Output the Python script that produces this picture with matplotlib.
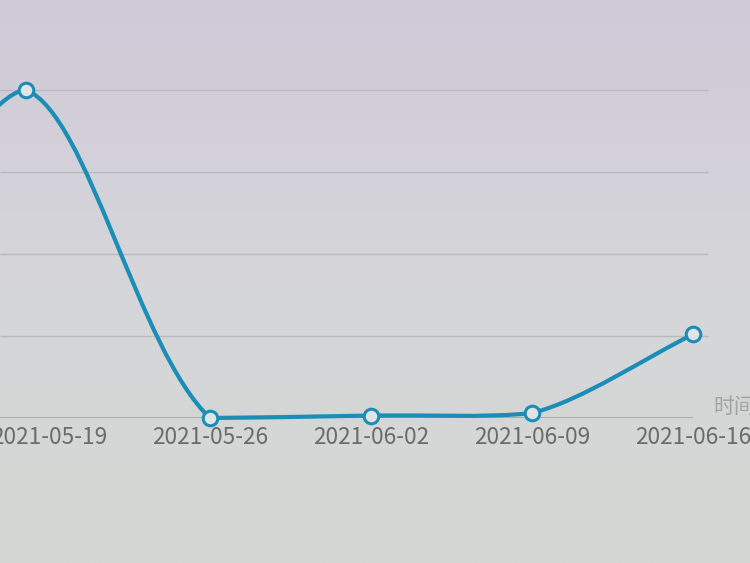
import numpy as np
import matplotlib
matplotlib.use("Agg")
import matplotlib.pyplot as plt
import matplotlib.dates as mdates
from matplotlib.path import Path
from matplotlib.patches import PathPatch
from matplotlib.colors import LinearSegmentedColormap

plt.rcParams['font.family'] = ['Noto Sans CJK SC', 'DejaVu Sans']

# data (y-axis labels are outside the shot, units are a guess)
dates = ['2021-05-11', '2021-05-18', '2021-05-26', '2021-06-02', '2021-06-09', '2021-06-16']
values = [1600, 4000, 0, 30, 60, 1020]
tick_dates = ['2021-05-19', '2021-05-26', '2021-06-02', '2021-06-09', '2021-06-16']
y_grid = [1000, 2000, 3000, 4000]

LINE = '#1b8db6'


def smooth_path(pts, smooth=0.3):
    """echarts(4) style bezier smoothing in pixel space, clamped to the points' bbox"""
    pmin = pts.min(axis=0)
    pmax = pts.max(axis=0)
    n = len(pts)
    verts = [tuple(pts[0])]
    codes = [Path.MOVETO]
    cp0 = pts[0].copy()
    for i in range(1, n):
        p = pts[i]
        prev = pts[i - 1]
        nxt = pts[i + 1] if i < n - 1 else p
        v = nxt - prev
        lp = np.hypot(*(p - prev))
        ln = np.hypot(*(p - nxt))
        r = ln / (ln + lp)
        cp1 = p - v * smooth * (1 - r)
        cp0 = np.clip(cp0, pmin, pmax)
        cp1 = np.clip(cp1, pmin, pmax)
        verts += [tuple(cp0), tuple(cp1), tuple(p)]
        codes += [Path.CURVE4] * 3
        cp0 = p + v * smooth * r
    return np.array(verts), codes


fig = plt.figure(figsize=(7.5, 5.63), dpi=100)

# photo-ish background: purple grey at the top, greener grey at the bottom
bg = fig.add_axes([0, 0, 1, 1], zorder=-1)
bg.axis('off')
cmap = LinearSegmentedColormap.from_list('bg', ['#d0cad8', '#d6d6da', '#d3d8d2'])
bg.imshow(np.linspace(0, 1, 256).reshape(-1, 1), cmap=cmap, aspect='auto', extent=[0, 1, 0, 1])

ax = fig.add_axes([0.0, 1 - 418 / 563, 693 / 750, (418 - 90) / 563])
ax.patch.set_alpha(0)

x = mdates.datestr2num(dates)
xt = mdates.datestr2num(tick_dates)
ax.set_xlim(xt[-1] - 693 / 23.0, xt[-1])
ax.set_ylim(0, 4000)

# grid lines (a touch longer than the axis, as in the photo)
ax.hlines(y_grid, ax.get_xlim()[0], xt[-1] + 0.65, colors='#b9b9bf', linewidth=1.0, clip_on=False, zorder=1)
ax.axhline(0, color='#a4a4a4', linewidth=1.2, zorder=2)

for s in ax.spines.values():
    s.set_visible(False)
ax.set_yticks([])
ax.set_xticks(xt)
ax.set_xticklabels(tick_dates)
ax.tick_params(axis='x', length=0, pad=6, labelsize=16.3, labelcolor='#6b6b6b')

# smoothed line, built in pixel space then mapped back to data coords
pix = ax.transData.transform(np.column_stack([x, values]))
verts, codes = smooth_path(pix)
verts = ax.transData.inverted().transform(verts)
ax.add_patch(PathPatch(Path(verts, codes), facecolor='none', edgecolor=LINE,
                       linewidth=3.0, capstyle='round', joinstyle='round', zorder=3, clip_on=False))
ax.plot(x, values, linestyle='none', marker='o', markersize=10.5, markerfacecolor='#e0e4e6',
        markeredgecolor=LINE, markeredgewidth=2.2, zorder=4, clip_on=False)

ax.text(xt[-1] + 20 / 23.0, 130, '时间', fontsize=15, color='#a3a3a3', va='center', ha='left')

fig.savefig('out.png', dpi=100)
